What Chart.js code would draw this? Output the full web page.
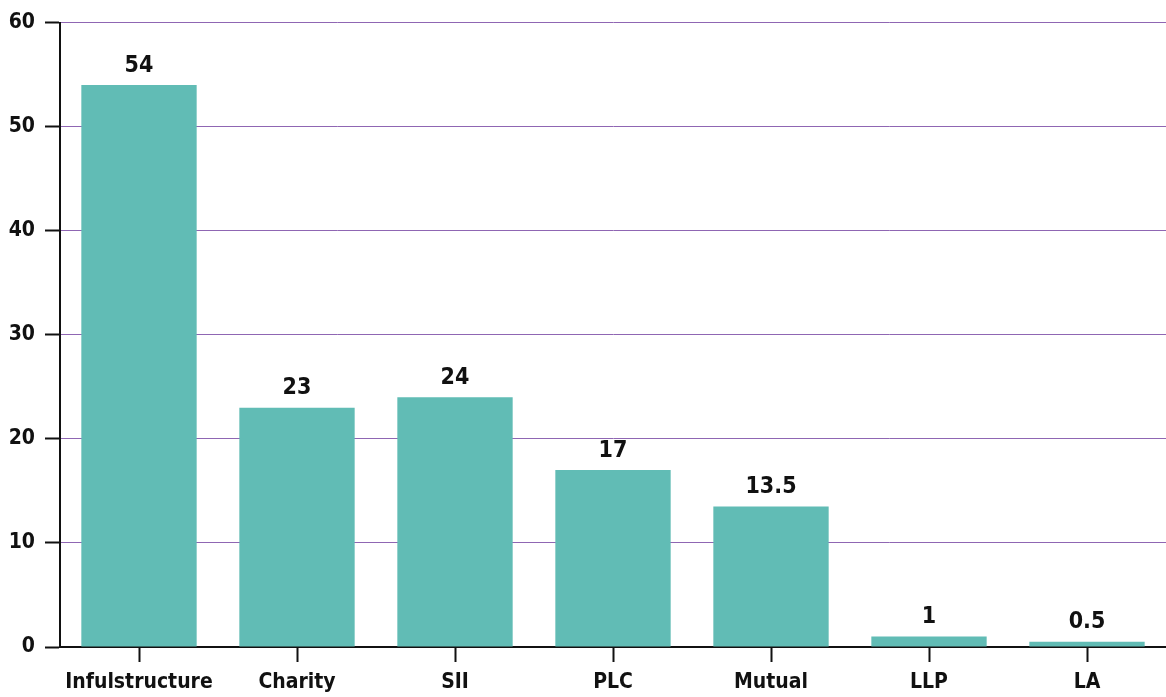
<!DOCTYPE html>
<html>
<head>
<meta charset="utf-8">
<script src="https://cdn.jsdelivr.net/npm/chart.js@4.4.1/dist/chart.umd.min.js"></script>
<style>
  html, body { margin: 0; padding: 0; background: #fff; }
  #wrap { width: 1166px; height: 697px; position: relative; }
</style>
</head>
<body>
<div id="wrap"><canvas id="c"></canvas></div>
<script>
const categories = ['Infulstructure', 'Charity', 'SII', 'PLC', 'Mutual', 'LLP', 'LA'];
const values = [54, 23, 24, 17, 13.5, 1, 0.5];
const yTicks = [0, 10, 20, 30, 40, 50, 60];

const FONT = '"Liberation Sans Narrow", "Arial Narrow", "DejaVu Sans Condensed", sans-serif';

// Writes each bar's value just above its top edge
const valueLabels = {
  id: 'valueLabels',
  afterDatasetsDraw(chart) {
    const ctx = chart.ctx;
    const meta = chart.getDatasetMeta(0);
    ctx.save();
    ctx.font = 'bold 23px ' + FONT;
    ctx.fillStyle = '#111';
    ctx.textAlign = 'center';
    ctx.textBaseline = 'bottom';
    meta.data.forEach((bar, i) => {
      ctx.fillText(String(values[i]), bar.x, bar.y - 8);
    });
    ctx.restore();
  }
};

new Chart(document.getElementById('c'), {
  type: 'bar',
  data: {
    labels: categories,
    datasets: [{
      data: values,
      backgroundColor: '#61bcb5',
      borderWidth: 0,
      barPercentage: 0.73,
      categoryPercentage: 1.0
    }]
  },
  options: {
    responsive: true,
    maintainAspectRatio: false,
    animation: false,
    layout: { padding: { top: 14, right: 0, left: 0, bottom: 0 } },
    plugins: { legend: { display: false }, tooltip: { enabled: false } },
    scales: {
      x: {
        border: { color: '#111', width: 2 },
        grid: {
          offset: false,
          drawOnChartArea: false,
          drawTicks: true,
          tickLength: 15,
          tickColor: '#111',
          tickWidth: 2
        },
        ticks: {
          color: '#111',
          padding: 8,
          autoSkip: false,
          maxRotation: 0,
          minRotation: 0,
          font: { family: FONT, size: 21, weight: 'bold' }
        },
        afterFit(scale) { scale.height = 50; }
      },
      y: {
        min: 0,
        max: 60,
        border: { color: '#111', width: 2 },
        grid: {
          color: '#8f66b3',
          lineWidth: 1,
          drawTicks: true,
          tickLength: 15,
          tickColor: '#111',
          tickWidth: 2
        },
        afterBuildTicks(scale) { scale.ticks = yTicks.map(v => ({ value: v })); },
        ticks: {
          color: '#111',
          padding: 10,
          font: { family: FONT, size: 21, weight: 'bold' }
        },
        afterFit(scale) { scale.width = 60; }
      }
    }
  },
  plugins: [valueLabels]
});
</script>
</body>
</html>
